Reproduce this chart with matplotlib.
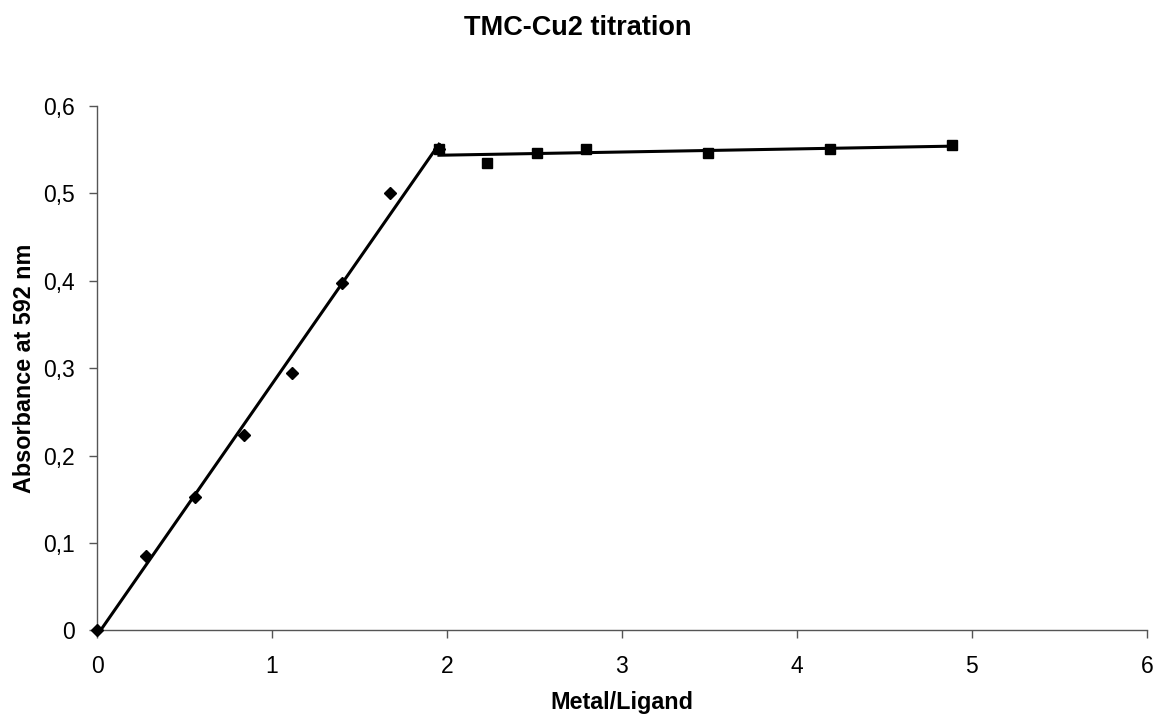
""" TMC-Cu2 titration: absorbance at 592 nm vs metal/ligand ratio. """

import numpy as np
import matplotlib
matplotlib.use('Agg')
import matplotlib.pyplot as plt

plt.rcParams['font.family'] = ['Liberation Sans', 'DejaVu Sans']

# Rising part (diamonds).
ratio_rise = [0.0, 0.28, 0.56, 0.84, 1.114, 1.40, 1.674, 1.954]
abs_rise = [0.0, 0.085, 0.152, 0.223, 0.295, 0.397, 0.501, 0.551]

# Plateau (squares).
ratio_flat = [1.954, 2.229, 2.514, 2.794, 3.49, 4.19, 4.886]
abs_flat = [0.551, 0.535, 0.546, 0.551, 0.546, 0.551, 0.556]

fig, ax = plt.subplots(figsize=(11.56, 7.17), dpi=100)
fig.subplots_adjust(left=0.084, right=0.992, top=0.852, bottom=0.121)

# Linear trendlines for each part.
p1 = np.polyfit(ratio_rise, abs_rise, 1)
x1 = np.array([ratio_rise[0], ratio_rise[-1]])
ax.plot(x1, np.polyval(p1, x1), color='black', lw=2.2, zorder=2)

p2 = np.polyfit(ratio_flat, abs_flat, 1)
x2 = np.array([ratio_flat[0], ratio_flat[-1]])
ax.plot(x2, np.polyval(p2, x2), color='black', lw=2.2, zorder=2)

ax.plot(ratio_rise, abs_rise, 'D', color='black', ms=6, zorder=3, clip_on=False)
ax.plot(ratio_flat, abs_flat, 's', color='black', ms=6.5, zorder=3, clip_on=False)

ax.set_xlim(0, 6)
ax.set_ylim(0, 0.6)
ax.set_xticks(range(0, 7))
yt = np.arange(0, 0.61, 0.1)
ax.set_yticks(yt)
ax.set_yticklabels(['0'] + [('%.1f' % v).replace('.', ',') for v in yt[1:]])

for side in ['top', 'right']:
    ax.spines[side].set_visible(False)
for side in ['left', 'bottom']:
    ax.spines[side].set_color('#555555')
    ax.spines[side].set_linewidth(1.0)
ax.tick_params(direction='out', length=6, width=1, color='#555555',
               labelsize=16.5)
ax.tick_params(axis='x', pad=12)
ax.tick_params(axis='y', pad=10)

fig.text(0.5, 1 - 28 / 717, "TMC-Cu2 titration", fontsize=19.5,
         fontweight='bold', ha='center', va='center')
ax.set_xlabel("Metal/Ligand", fontsize=16.8, fontweight='bold', labelpad=9)
ax.set_ylabel("Absorbance at 592 nm", fontsize=16.8, fontweight='bold', labelpad=5)

plt.savefig('out.png')
